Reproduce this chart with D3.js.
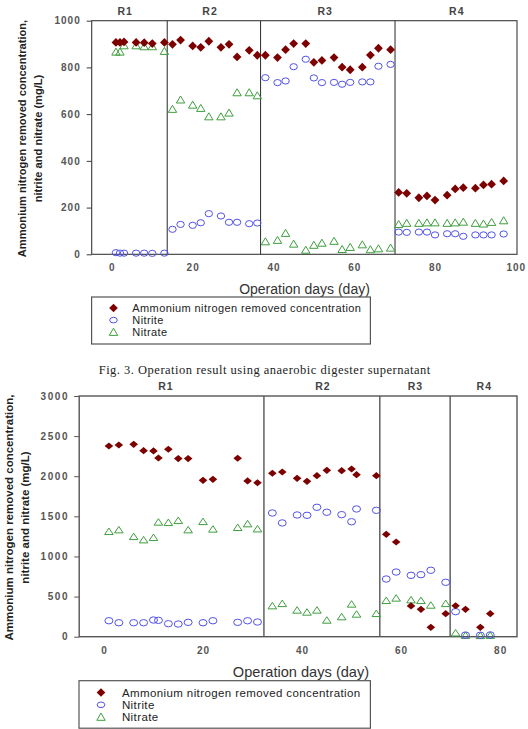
<!DOCTYPE html>
<html>
<head>
<meta charset="utf-8">
<script src="https://cdnjs.cloudflare.com/ajax/libs/d3/7.8.5/d3.min.js"></script>
<style>
body { margin: 0; background: #fff; }
svg { display: block; }
</style>
</head>
<body>
<div id="chart"></div>
<script>
// Fig. 3 (top) - days and concentrations (mg/L)
var days1 = [1, 2, 3, 6, 8, 10, 13,
    15, 17, 20, 22, 24, 27, 29, 31, 34, 36,
    38, 41, 43, 45, 48, 50, 52, 55, 57, 59, 62, 64, 66, 69,
    71, 73, 76, 78, 80, 83, 85, 87, 90, 92, 94, 97];
var ammonium1 = [907, 907, 909, 907, 906, 902, 907,
    899, 917, 892, 886, 912, 886, 899, 845, 873, 852,
    852, 842, 876, 902, 902, 822, 830, 842, 801, 790, 801, 853, 882, 876,
    265, 261, 242, 250, 232, 253, 280, 285, 283, 297, 300, 314];
var nitrite1 = [7, 5, 5, 5, 5, 4, 5,
    107, 128, 124, 135, 174, 164, 137, 137, 131, 134,
    756, 735, 742, 803, 835, 755, 735, 736, 728, 736, 738, 738, 805, 813,
    95, 94, 95, 95, 83, 88, 88, 77, 83, 83, 83, 87];
var nitrate1 = [866, 866, 893, 893, 889, 889, 869,
    621, 661, 639, 625, 589, 589, 605, 692, 692, 679,
    54, 60, 90, 44, 18, 39, 48, 56, 21, 30, 41, 20, 24, 27,
    128, 133, 133, 135, 135, 133, 135, 138, 133, 130, 137, 144];
var phaseEnds1 = [13.7, 36.8, 70.1];
var phaseLabelDays1 = [3.3, 24.3, 52.8, 85.4];
var yTicks1 = [0, 200, 400, 600, 800, 1000];
var xTicks1 = [0, 20, 40, 60, 80, 100];

// second figure
var days2 = [1, 3, 6, 8, 10, 11, 13, 15, 17, 20, 22, 27, 29, 31,
    34, 36, 39, 41, 43, 45, 48, 50, 51, 55,
    57, 59, 62, 64, 66, 69,
    71, 73, 76, 78];
var ammonium2 = [2377, 2389, 2398, 2318, 2315, 2227, 2336, 2220, 2220, 1949, 1962, 2224, 1941, 1919,
    2037, 2053, 1974, 1937, 2007, 2074, 2069, 2090, 2019, 2007,
    1276, 1180, 383, 341, 117, 287,
    386, 341, 117, 287];
var nitrite2 = [199, 174, 174, 174, 208, 204, 162, 158, 179, 174, 199, 179, 199, 183,
    1542, 1418, 1517, 1513, 1613, 1551, 1521, 1433, 1592, 1575,
    719, 806, 765, 773, 828, 678,
    312, 20, 18, 22];
var nitrate2 = [1309, 1330, 1246, 1205, 1234, 1426, 1421, 1446, 1330, 1433, 1339, 1359, 1405, 1342,
    383, 411, 329, 304, 329, 204, 246, 404, 279, 287,
    449, 479, 457, 449, 391, 411,
    45, 15, 12, 15];
var phaseEnds2 = [32.3, 55.7, 69.9];
var phaseLabelDays2 = [12.5, 44.2, 62.9, 76.8];
var yTicks2 = [0, 500, 1000, 1500, 2000, 2500, 3000];
var xTicks2 = [0, 20, 40, 60, 80];

var phaseNames = ["R1", "R2", "R3", "R4"];
var seriesNames = ["Ammonium nitrogen removed concentration", "Nitrite", "Nitrate"];
var caption = "Fig. 3. Operation result using anaerobic digester supernatant";

var RED = "#7d0000", BLUE = "#5252e8", GREEN = "#3f9e3f";

var svg = d3.select("#chart").append("svg")
    .attr("width", 528).attr("height", 729);
svg.append("rect").attr("width", 528).attr("height", 729).attr("fill", "#fff");

function diamond(w, h) { return "M0," + (-h) + "L" + w + ",0L0," + h + "L" + (-w) + ",0Z"; }
function triangle(w, h) { return "M0," + (-h) + "L" + w + "," + (h * 0.8) + "L" + (-w) + "," + (h * 0.8) + "Z"; }

function drawPanel(p) {
    var x = d3.scaleLinear().domain(p.xDomain).range([p.left, p.right]);
    var y = d3.scaleLinear().domain(p.yDomain).range([p.bottom, p.top]);
    var g = svg.append("g");

    // frame
    g.append("rect")
        .attr("x", p.left).attr("y", p.top)
        .attr("width", p.right - p.left).attr("height", p.bottom - p.top)
        .attr("fill", "none").attr("stroke", p.frameColor).attr("stroke-width", p.frameWidth);

    // phase dividers + labels
    g.selectAll(".divider").data(p.phaseEnds).enter().append("line")
        .attr("x1", function (d) { return x(d); }).attr("x2", function (d) { return x(d); })
        .attr("y1", p.top).attr("y2", p.bottom)
        .attr("stroke", p.frameColor).attr("stroke-width", p.frameWidth);
    g.selectAll(".phase").data(p.phaseLabelDays).enter().append("text")
        .attr("x", function (d) { return x(d); })
        .attr("y", p.top - 6)
        .attr("text-anchor", "middle")
        .style("font-family", "'Liberation Sans', Arial, sans-serif")
        .style("font-size", "10.5px").style("font-weight", "bold")
        .style("letter-spacing", "1px")
        .attr("fill", "#444")
        .text(function (d, i) { return phaseNames[i]; });

    // axes
    var yAxis = g.append("g").attr("transform", "translate(" + p.left + ",0)")
        .call(d3.axisLeft(y).tickValues(p.yTicks).tickSize(5).tickPadding(p.yPad).tickFormat(d3.format("d")));
    yAxis.select(".domain").remove();
    yAxis.selectAll(".tick line").attr("stroke", p.frameColor);
    yAxis.selectAll("text")
        .style("font-family", "'Liberation Sans', Arial, sans-serif")
        .style("font-size", "10px").style("font-weight", "bold")
        .style("letter-spacing", p.tickSpacing).attr("fill", "#555");

    var xAxis = g.append("g").attr("transform", "translate(0," + p.bottom + ")")
        .call(d3.axisBottom(x).tickValues(p.xTicks).tickSize(0).tickPadding(10));
    xAxis.select(".domain").remove();
    xAxis.selectAll("text")
        .style("font-family", "'Liberation Sans', Arial, sans-serif")
        .style("font-size", "10px").style("font-weight", "bold")
        .style("letter-spacing", "1px").attr("fill", "#555");

    // axis titles
    var yt = g.append("text")
        .attr("transform", "translate(" + p.yTitleX + "," + p.yTitleY + ") rotate(-90)")
        .attr("text-anchor", "middle")
        .style("font-family", "'Liberation Sans', Arial, sans-serif")
        .style("font-size", p.yTitleSize).style("font-weight", "bold")
        .attr("fill", "#222");
    yt.append("tspan").attr("x", 0).attr("dy", 0).text("Ammonium nitrogen removed concentration,");
    yt.append("tspan").attr("x", 0).attr("dy", 16).text("nitrite and nitrate (mg/L)");

    g.append("text")
        .attr("x", p.xTitleX).attr("y", p.xTitleY)
        .attr("text-anchor", "middle")
        .style("font-family", "'Liberation Sans', Arial, sans-serif")
        .style("font-size", p.xTitleSize).attr("fill", "#333")
        .text("Operation days (day)");

    // points
    var m = p.marker;
    g.append("g").selectAll("path").data(p.nitrate).enter().append("path")
        .attr("transform", function (d, i) { return "translate(" + x(p.days[i]) + "," + y(d) + ")"; })
        .attr("d", triangle(m.tw, m.th))
        .attr("fill", "none").attr("stroke", GREEN).attr("stroke-width", 1);
    g.append("g").selectAll("ellipse").data(p.nitrite).enter().append("ellipse")
        .attr("cx", function (d, i) { return x(p.days[i]); })
        .attr("cy", function (d) { return y(d); })
        .attr("rx", m.rx).attr("ry", m.ry)
        .attr("fill", "none").attr("stroke", BLUE).attr("stroke-width", 1);
    g.append("g").selectAll("path").data(p.ammonium).enter().append("path")
        .attr("transform", function (d, i) { return "translate(" + x(p.days[i]) + "," + y(d) + ")"; })
        .attr("d", diamond(m.dw, m.dh))
        .attr("fill", RED);

    // legend
    var L = p.legend;
    g.append("rect")
        .attr("x", L.x).attr("y", L.y).attr("width", L.w).attr("height", L.h)
        .attr("fill", "#fff").attr("stroke", "#555").attr("stroke-width", 1.2);
    var rows = g.selectAll(".legends").data(seriesNames).enter().append("g")
        .attr("transform", function (d, i) { return "translate(0," + (L.row0 + i * L.step) + ")"; });
    rows.append("path")
        .attr("transform", "translate(" + L.mx + ",0)")
        .attr("d", function (d, i) {
            if (i == 0) return diamond(4.3, 4.3);
            if (i == 2) return triangle(4.2, 4);
            return null;
        })
        .attr("fill", function (d, i) { return i == 0 ? RED : "none"; })
        .attr("stroke", function (d, i) { return i == 2 ? GREEN : "none"; });
    rows.filter(function (d, i) { return i == 1; }).append("ellipse")
        .attr("cx", L.mx).attr("cy", 0).attr("rx", 3.8).attr("ry", 2.8)
        .attr("fill", "none").attr("stroke", BLUE);
    rows.append("text")
        .attr("x", L.tx).attr("y", 4)
        .style("font-family", "'Liberation Sans', Arial, sans-serif")
        .style("font-size", L.size).style("letter-spacing", "0.4px")
        .attr("fill", "#222")
        .text(function (d) { return d; });
}

drawPanel({
    days: days1, ammonium: ammonium1, nitrite: nitrite1, nitrate: nitrate1,
    xDomain: [-5, 100.3], yDomain: [0, 1000],
    left: 91.7, right: 517, top: 20.7, bottom: 254.3,
    xTicks: xTicks1, yTicks: yTicks1, yPad: 6, tickSpacing: "1px",
    phaseEnds: phaseEnds1, phaseLabelDays: phaseLabelDays1,
    frameColor: "#3a3a3a", frameWidth: 1.1,
    yTitleX: 26, yTitleY: 138.5, yTitleSize: "11.1px",
    xTitleX: 304.5, xTitleY: 293.5, xTitleSize: "14px",
    marker: { dw: 4.4, dh: 4.4, rx: 3.7, ry: 3.1, tw: 4.2, th: 3.9 },
    legend: { x: 91.6, y: 297, w: 278.8, h: 47, mx: 113.5, tx: 132.3, row0: 308, step: 12.1, size: "11px" }
});

svg.append("text")
    .attr("x", 98.7).attr("y", 373.5)
    .attr("textLength", 331.6).attr("lengthAdjust", "spacing")
    .style("font-family", "'Liberation Serif', 'Times New Roman', serif")
    .style("font-size", "12.5px").attr("fill", "#222")
    .text(caption);

drawPanel({
    days: days2, ammonium: ammonium2, nitrite: nitrite2, nitrate: nitrate2,
    xDomain: [-5, 83.4], yDomain: [0, 3000],
    left: 79.2, right: 517, top: 396, bottom: 636.7,
    xTicks: xTicks2, yTicks: yTicks2, yPad: 5, tickSpacing: "1.6px",
    phaseEnds: phaseEnds2, phaseLabelDays: phaseLabelDays2,
    frameColor: "#555", frameWidth: 1.4,
    yTitleX: 13, yTitleY: 517.5, yTitleSize: "11.5px",
    xTitleX: 301, xTitleY: 676.6, xTitleSize: "14.6px",
    marker: { dw: 4.3, dh: 3.6, rx: 4, ry: 3.2, tw: 4.3, th: 3.6 },
    legend: { x: 79, y: 680.7, w: 291.4, h: 47.5, mx: 101, tx: 121.9, row0: 692.5, step: 12.3, size: "11.5px" }
});
</script>
</body>
</html>
